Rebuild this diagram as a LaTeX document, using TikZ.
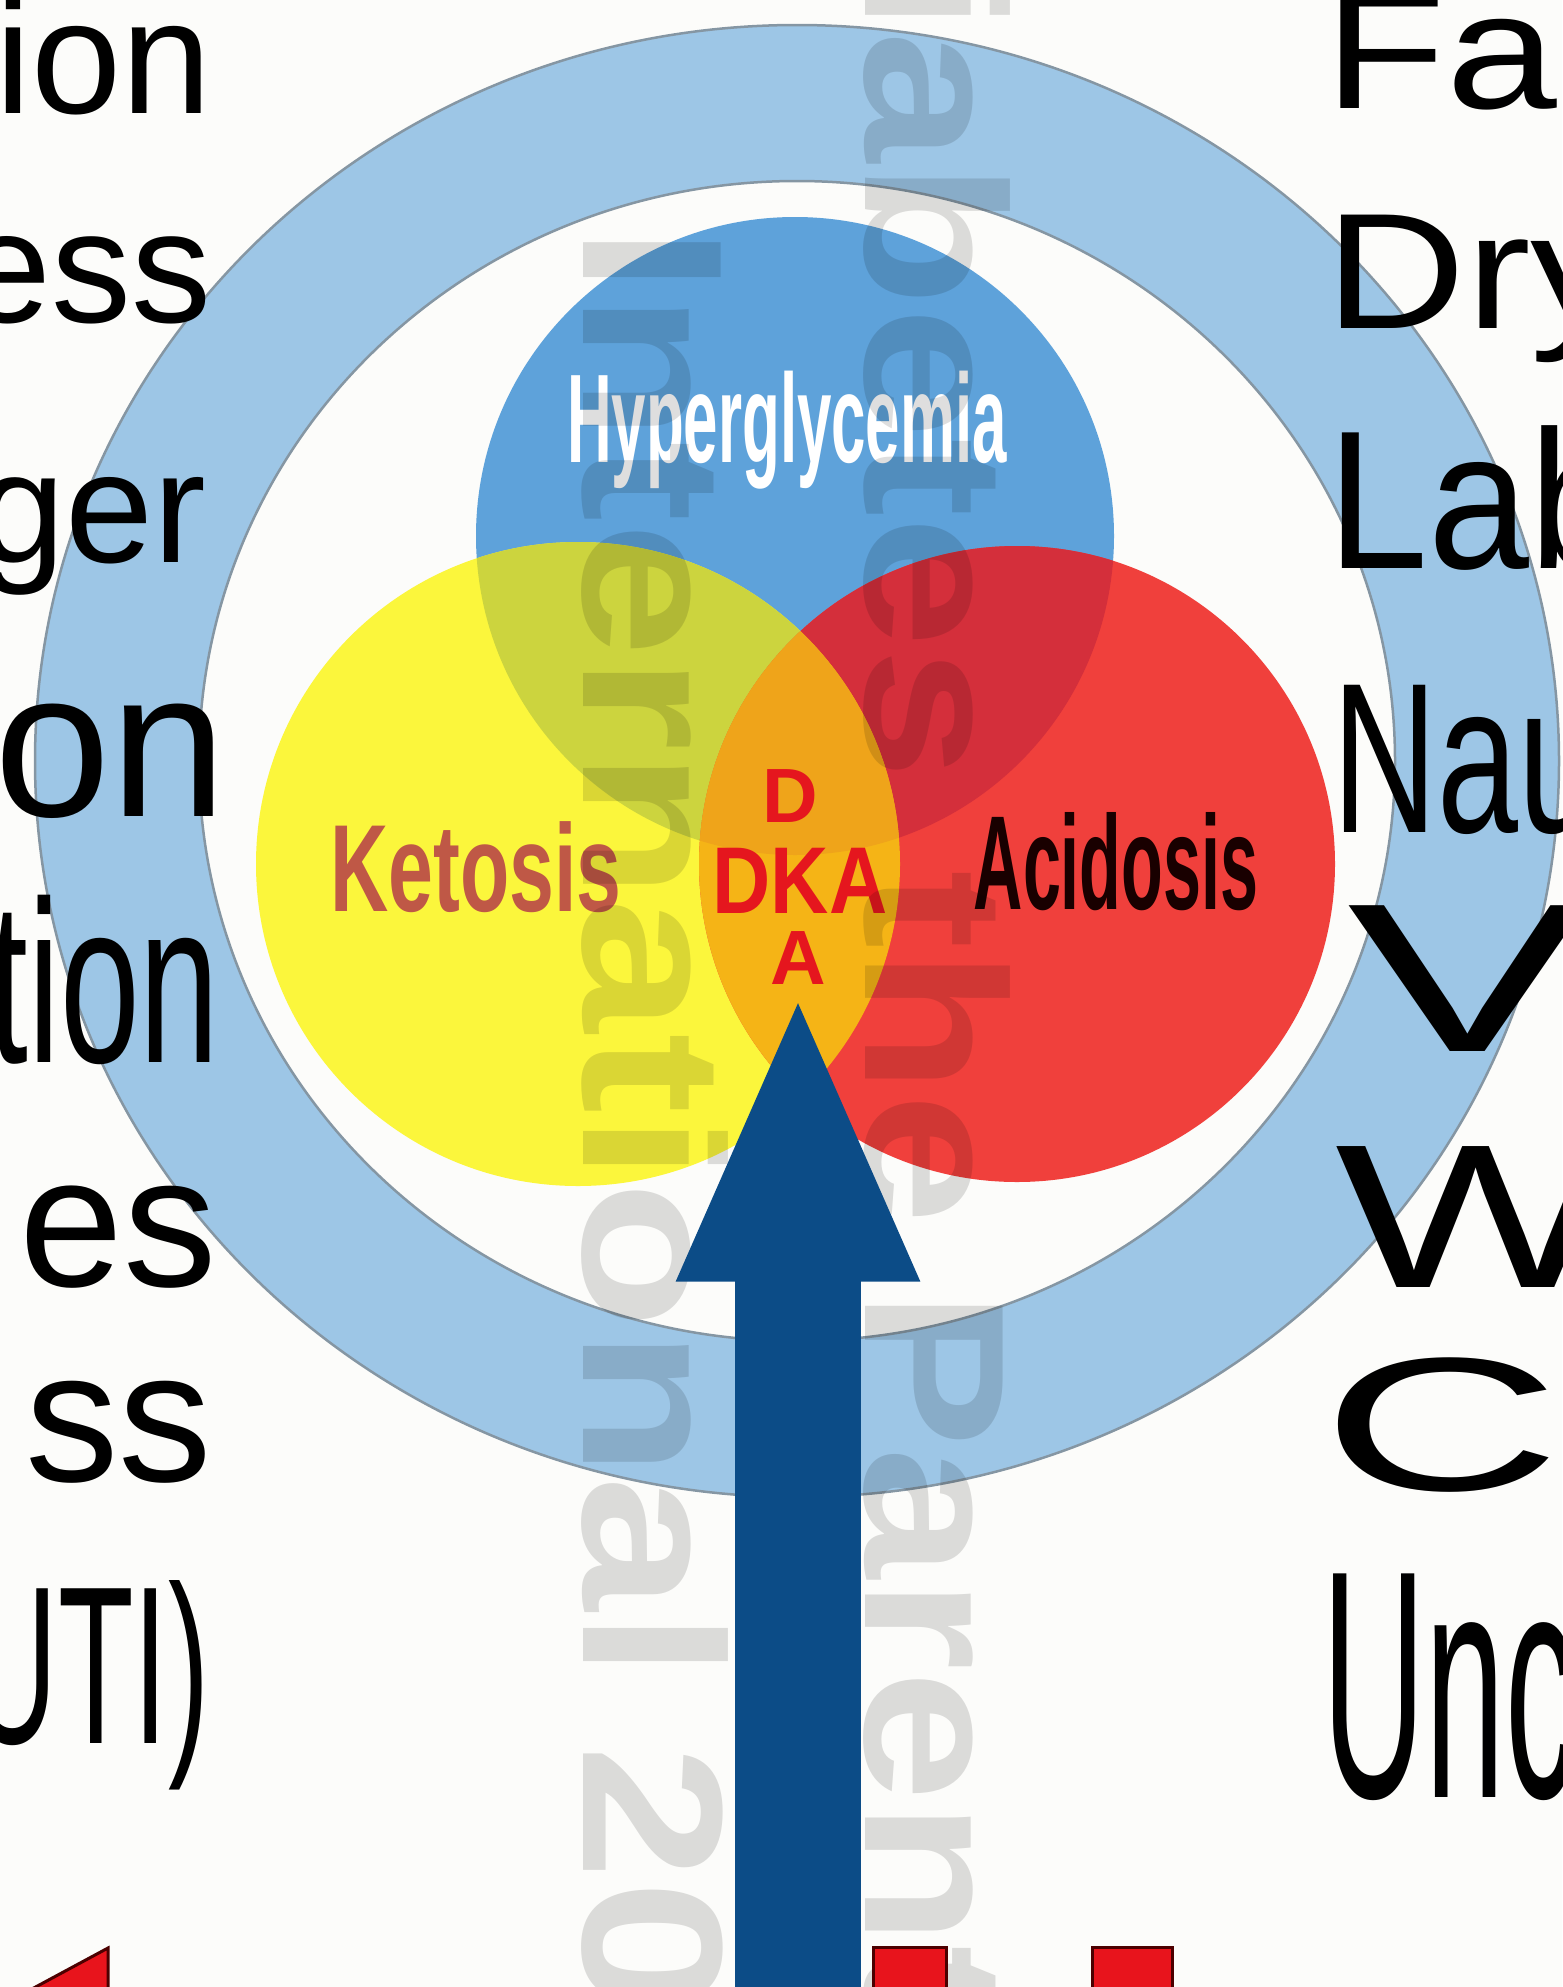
\documentclass[tikz,border=0pt]{standalone}
\usepackage{graphicx}
\usepackage{fontspec}
\setmainfont{Liberation Sans}
\usetikzlibrary{
  arrows.meta,
  positioning
}
\definecolor{paper}{HTML}{FCFCFA}
\definecolor{ringblue}{HTML}{9DC6E6}
\definecolor{ringedge}{HTML}{8596A3}
\definecolor{hyperblue}{HTML}{5EA2DA}
\definecolor{ketoyellow}{HTML}{FBF63C}
\definecolor{acidred}{HTML}{F0403C}
\definecolor{olivemix}{HTML}{CCD43E}
\definecolor{darkredmix}{HTML}{D42F3B}
\definecolor{orangemix}{HTML}{F5B416}
\definecolor{triplemix}{HTML}{EFA41A}
\definecolor{ketotext}{HTML}{BF5846}
\definecolor{dkared}{HTML}{E5161E}
\definecolor{arrowblue}{HTML}{0C4C87}
\definecolor{bitred}{HTML}{E8141C}
\newcommand{\fsz}[1]{\fontsize{#1}{#1}\selectfont}
\newcommand{\squeeze}[2]{\scalebox{#1}[1]{#2}}

\begin{document}
\begin{tikzpicture}[x=0.1mm, y=-0.1mm,
      leftword/.style={inner sep=0pt, anchor=base east, text=black},
      rightword/.style={inner sep=0pt, anchor=base west, text=black},
      vennlabel/.style={inner sep=0pt, anchor=base},
      dkalabel/.style={vennlabel, text=dkared},
      wmark/.style={
        inner sep=0pt, rotate=-90, anchor=base west,
        text=black, text opacity=0.13, font=\bfseries\fsz{56.9pt}
      },
      bigarrow/.style={line width=12.6mm, draw=arrowblue,
        -{Triangle[width=22mm, length=29.1mm]}},
      ringband/.style={fill=ringblue, draw=ringedge, line width=0.25mm, even odd rule},
      redbit/.style={fill=bitred, draw=black!70!red, line width=0.3mm}
    ]
      \path[use as bounding box] (0,0) rectangle (1562,1987);
      \clip (0,0) rectangle (1562,1987);
      \fill[paper] (0,0) rectangle (1562,1987);

      % ring
      \coordinate (ringc) at (797,761);
      \path[ringband] (ringc) ellipse [x radius=762, y radius=736]
                      (ringc) ellipse [x radius=598, y radius=580];

      % venn
      \coordinate (hyperc) at (795,536);
      \coordinate (ketoc) at (578,864);
      \coordinate (acidc) at (1017,864);
      \fill[hyperblue] (hyperc) circle [radius=319];
      \fill[ketoyellow] (ketoc) circle [radius=322];
      \fill[acidred] (acidc) circle [radius=318];
      \begin{scope}
        \clip (hyperc) circle [radius=319];
        \fill[olivemix] (ketoc) circle [radius=322];
        \fill[darkredmix] (acidc) circle [radius=318];
      \end{scope}
      \begin{scope}
        \clip (ketoc) circle [radius=322];
        \fill[orangemix] (acidc) circle [radius=318];
        \clip (hyperc) circle [radius=319];
        \fill[triplemix] (acidc) circle [radius=318];
      \end{scope}

      \node[vennlabel, text=white, font=\bfseries\fsz{35.9pt}] (hyperlabel) at (787,462) {\squeeze{0.49}{Hyperglycemia}};
      \node[vennlabel, text=ketotext, font=\bfseries\fsz{35.3pt}] (ketolabel) at (476,911) {\squeeze{0.65}{Ketosis}};
      \node[vennlabel, text=black!90!red, font=\bfseries\fsz{38.1pt}] (acidlabel) at (1116,909) {\squeeze{0.51}{Acidosis}};
      \node[dkalabel, font=\bfseries\fsz{21.9pt}] (dkaD) at (790,822) {D};
      \node[dkalabel, font=\bfseries\fsz{27pt}] (dka) at (800,913) {\squeeze{0.85}{DKA}};
      \node[dkalabel, font=\bfseries\fsz{21.9pt}] (dkaA) at (798,984) {A};

      % watermark
      \node[wmark] (wmleft) at (583,226) {\squeeze{1.21}{International 20}};
      \node[wmark] (wmright) at (865,-205) {\squeeze{1.18}{Diabetes\hspace{2.2mm} the Parent}};

      % arrow
      \coordinate[below=0.6mm of dkaA] (arrowtip);
      \coordinate (arrowfoot) at (798,2100);
      \draw[bigarrow] (arrowfoot) -- (arrowtip);

      % left column
      \node[leftword, font=\fsz{46.1pt}] (lw1) at (212,113) {ion};
      \node[leftword, font=\fsz{45.5pt}] (lw2) at (212,322) {ess};
      \node[leftword, font=\fsz{45pt}] (lw3) at (207,562) {ger};
      \node[leftword, font=\fsz{59.5pt}] (lw4) at (228,816) {on};
      \node[leftword, font=\fsz{65.7pt}] (lw5) at (220,1062) {\squeeze{0.62}{tion}};
      \node[leftword, font=\fsz{53.2pt}] (lw6) at (218,1286) {es};
      \node[leftword, font=\fsz{53.2pt}] (lw7) at (213,1481) {ss};
      \node[leftword, font=\fsz{64pt}] (lw8) at (210,1743) {\squeeze{0.55}{UTI)}};

      % right column
      \node[rightword, font=\fsz{47.2pt}] (rw1) at (1324,108) {\squeeze{1.2}{Fa}};
      \node[rightword, font=\fsz{46.9pt}] (rw2) at (1325,328) {\squeeze{1.18}{Dry}};
      \node[rightword, font=\fsz{56.1pt}] (rw3) at (1327,568) {\squeeze{0.92}{Lab}};
      \node[rightword, font=\fsz{60.9pt}] (rw4) at (1332,832) {\squeeze{0.68}{Nau}};
      \node[rightword, font=\fsz{60.3pt}] (rw5) at (1347,1051) {\squeeze{1.7}{V}};
      \node[rightword, font=\fsz{58.3pt}] (rw6) at (1335,1287) {\squeeze{1.45}{W}};
      \node[rightword, font=\fsz{54.1pt}] (rw7) at (1321,1490) {\squeeze{1.75}{C}};
      \node[rightword, font=\fsz{92.5pt}] (rw8) at (1322,1797) {\squeeze{0.44}{Unc}};

      % red bits at the lower edge
      \path[redbit] (30,1990) -- (108,1948) -- (108,1990) -- cycle;
      \path[redbit] (873,1947) rectangle (946,2000);
      \path[redbit] (1092,1947) rectangle (1172,2000);
    \end{tikzpicture}
\end{document}
